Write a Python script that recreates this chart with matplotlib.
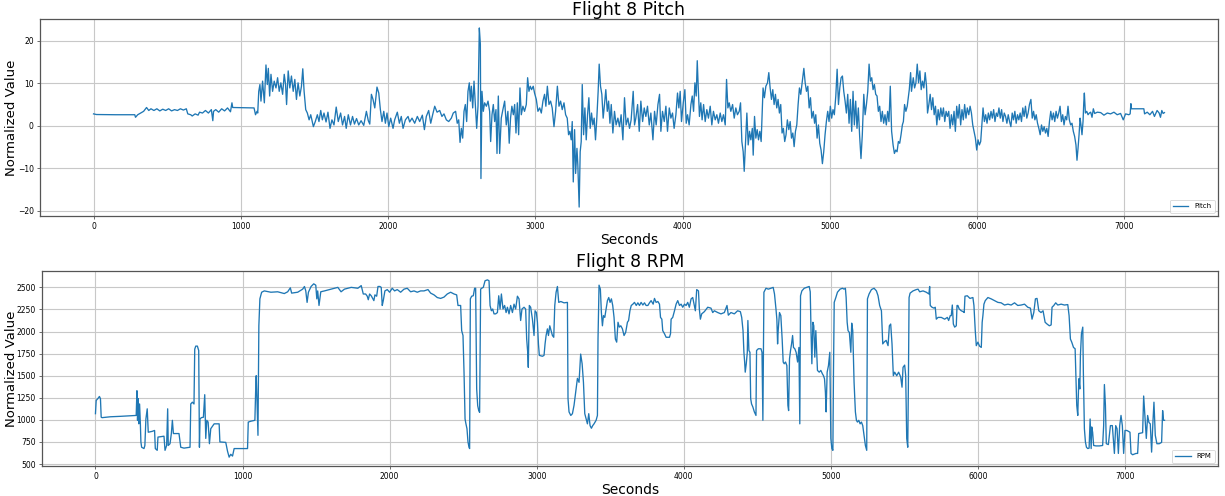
import matplotlib
matplotlib.use("Agg")
import matplotlib.pyplot as plt

# ---- data: (seconds, value) ----
pitch_points = [
    (0, 2.8), (20, 2.65), (150, 2.6), (280, 2.6), (285, 2.0), (300, 2.6), (320, 3.0), (340, 3.4),
    (360, 4.3), (375, 3.6), (390, 4.0), (410, 3.6), (430, 4.0), (450, 3.5), (470, 3.9), (490, 3.6),
    (510, 4.0), (530, 3.5), (550, 3.8), (570, 3.6), (590, 4.0), (610, 3.7), (630, 4.0), (640, 2.8),
    (660, 2.6), (670, 2.3), (690, 2.8), (710, 2.5), (720, 3.2), (740, 3.0), (760, 3.6), (780, 3.0),
    (800, 3.8), (810, 1.2), (815, 3.4), (830, 3.8), (850, 3.2), (870, 4.0), (890, 3.5), (910, 4.2),
    (930, 3.3), (940, 5.4), (945, 4.3), (1090, 4.2), (1100, 2.6), (1110, 3.4),
    (1115, 3.0), (1122, 8.1), (1130, 9.7), (1137, 5.8), (1148, 10.5), (1160, 5.4), (1171, 14.3),
    (1180, 9.7), (1187, 13.5), (1196, 7.0), (1205, 12.1), (1216, 8.1), (1227, 10.5), (1239, 8.9),
    (1250, 11.3), (1261, 8.1), (1272, 10.1), (1284, 7.4), (1295, 12.1), (1304, 9.7), (1311, 5.0),
    (1322, 12.9), (1333, 8.9), (1344, 11.7), (1356, 8.1), (1367, 10.9), (1378, 6.2), (1389, 10.1),
    (1401, 7.0), (1412, 9.3), (1421, 13.4), (1430, 8.1), (1441, 3.8),
    (1452, 3.0), (1464, 1.4), (1475, 2.6), (1493, -0.2), (1506, 1.0), (1520, 2.6), (1531, 1.0),
    (1543, 3.6), (1554, 1.4), (1565, 3.0), (1579, 0.9), (1592, 3.2), (1606, -0.6), (1619, 1.4),
    (1633, 0.2), (1648, 4.4), (1662, 1.0), (1678, 3.0), (1691, 0.2), (1705, 2.2), (1716, -0.6),
    (1730, 2.6), (1745, 0.2), (1759, 2.2), (1772, 0.4), (1786, 1.7), (1801, 0.2), (1817, 1.2),
    (1835, 0.1), (1853, 3.4), (1866, 1.2), (1876, 0.4),
    (1887, 7.4), (1898, 6.2), (1910, 4.2), (1925, 9.1), (1937, 7.7), (1948, 3.8), (1959, 1.0),
    (1971, 3.4), (1982, 0.6), (1993, 3.0), (2005, -0.2), (2018, 1.8), (2034, -0.6), (2045, 1.4),
    (2063, 3.2), (2077, 0.6), (2090, 2.2), (2102, -0.6), (2118, 1.4), (2136, 2.2), (2147, 0.9),
    (2163, 1.8), (2181, 0.6), (2199, 2.2), (2215, 1.0), (2233, 2.5), (2247, -0.9), (2260, 2.2),
    (2276, 3.6), (2290, 0.6), (2303, 2.6), (2317, 4.6), (2333, 3.2), (2351, 3.6), (2366, 2.2),
    (2380, 2.8), (2396, 1.4), (2412, 1.0), (2430, 1.8), (2443, 3.0), (2459, 3.4), (2470, 0.6),
    (2480, 1.4), (2489, -3.9), (2498, -0.6), (2507, -2.9), (2516, 3.4), (2525, 5.0), (2534, 1.0),
    (2543, 8.1), (2552, 10.1), (2559, 5.8), (2566, 9.3), (2575, 4.2), (2584, 10.5), (2593, 5.0),
    (2602, -0.6), (2611, 4.6), (2620, 23.0), (2627, 19.2), (2631, -12.4), (2638, 8.1), (2647, 3.4),
    (2656, 5.4), (2668, 4.6), (2679, 5.8), (2690, 3.4), (2697, -3.7), (2706, 2.6), (2715, 5.0),
    (2724, 1.0), (2733, 3.8), (2740, -6.5), (2749, 7.0), (2758, -6.5), (2769, 1.8), (2780, 3.8),
    (2792, 5.8), (2803, 0.2), (2814, 3.4), (2823, -4.1), (2832, 1.8), (2841, 4.6), (2851, 2.6),
    (2860, 5.0), (2869, -1.7), (2878, 5.4), (2887, -2.1), (2896, 8.9), (2905, 2.6), (2916, 4.6),
    (2927, 3.4), (2939, 5.0), (2948, 11.3), (2957, 8.1), (2966, 9.3), (2975, 8.5), (2986, 9.3),
    (2995, 7.7), (3007, 6.2), (3018, 3.4), (3030, 4.2), (3041, 3.0), (3052, 5.8), (3063, 7.4),
    (3072, 4.6), (3082, 9.3), (3093, 5.0), (3104, 5.8), (3115, 4.2), (3127, -0.2), (3138, 3.4),
    (3150, 9.3), (3161, 4.6), (3172, 5.8), (3183, 3.8), (3195, 5.4), (3206, 2.6), (3217, 1.8),
    (3226, -2.1), (3235, -1.3), (3244, -3.3), (3251, 1.0), (3258, -13.2), (3267, -0.9),
    (3274, -11.2), (3283, -5.3), (3289, -9.2), (3298, -19.1), (3305, -6.1), (3312, -3.7),
    (3319, 9.7), (3328, -2.1), (3337, 4.2), (3346, -3.3), (3355, 2.6), (3364, 6.6), (3373, -0.6),
    (3382, 3.0), (3391, 0.2), (3400, 1.8), (3409, -3.3), (3418, 1.8), (3427, 8.1), (3434, 14.5),
    (3443, 9.3), (3452, 7.4), (3461, 1.8), (3470, 5.0), (3479, 8.5), (3489, 3.4), (3498, 5.8),
    (3507, 0.6), (3516, 5.0), (3527, -1.7), (3538, 3.4), (3549, 0.2), (3561, 1.8), (3572, -0.2),
    (3583, 2.6), (3595, -3.3), (3606, 6.6), (3617, 0.2), (3629, 1.8), (3640, -0.6), (3651, 1.4),
    (3665, 8.1), (3674, 0.2),
    (3683, 1.8), (3695, 5.0), (3706, -1.3), (3717, 5.8), (3729, 1.0), (3740, 4.2), (3751, 2.2),
    (3762, 4.6), (3774, 0.2), (3785, 3.0), (3799, -3.3), (3810, 3.4), (3821, 0.2), (3833, 5.0),
    (3844, 7.4), (3853, -1.3), (3864, 3.4), (3876, 1.0), (3887, 4.6), (3898, -1.3), (3910, 4.2),
    (3921, 1.8), (3932, 3.0), (3943, -0.6), (3955, 2.6), (3966, 7.7), (3975, 4.2), (3984, 8.1),
    (3993, 1.0), (4005, 5.4), (4016, 8.5), (4025, 0.6), (4034, 2.6), (4045, 0.2), (4057, 5.0),
    (4066, 7.0), (4075, 3.4), (4084, 10.1), (4093, 7.0), (4100, 15.3), (4106, 9.7), (4115, 2.2),
    (4124, 5.4), (4133, 1.4), (4143, 5.0), (4154, 1.0), (4165, 3.8), (4176, 1.8), (4188, 4.6),
    (4199, 0.2), (4210, 3.4), (4222, 1.4), (4233, 2.6), (4244, 0.6), (4256, 3.0), (4267, 1.0),
    (4278, 2.6), (4290, 0.2), (4299, 10.9), (4308, 4.2), (4317, 5.4), (4328, 3.4), (4340, 5.0),
    (4351, 1.8), (4362, 4.2), (4373, 2.6), (4385, 3.4), (4394, 5.4), (4403, -3.7), (4412, -6.1),
    (4419, -10.7), (4428, -3.7), (4437, 3.0), (4446, -4.5), (4455, -1.3), (4464, -3.3),
    (4474, -0.6), (4480, -6.9), (4489, 2.2), (4498, -2.9), (4507, -0.9), (4516, -3.3),
    (4525, -1.3), (4534, -3.7), (4541, 3.4), (4547, 8.9), (4556, 6.6), (4566, 9.3), (4577, 10.1),
    (4586, 12.5), (4595, 8.9), (4604, 6.2), (4613, 8.5), (4622, 5.0), (4631, 7.4), (4640, 4.2),
    (4649, 6.2), (4658, 3.0), (4667, 5.0), (4676, -1.7), (4685, -0.6), (4694, -3.7), (4703, -2.1),
    (4712, 1.4), (4722, -0.9), (4731, 1.0), (4740, -2.9), (4749, -1.7), (4758, -4.9), (4767, -1.3),
    (4776, 0.2), (4785, 5.0), (4794, 8.9), (4803, 7.4), (4812, 10.1), (4824, 13.5), (4833, 10.1),
    (4842, 8.1), (4851, 9.3), (4860, 4.2), (4869, 6.6), (4878, 1.8), (4888, 3.4), (4897, 0.6),
    (4905, 2.6), (4914, -2.9), (4923, 0.2), (4932, -4.1), (4941, -5.7), (4950, -8.9), (4959, -6.1),
    (4968, -2.1), (4977, 1.0), (4986, 3.4), (4995, 1.0), (5004, 4.6), (5013, 1.8), (5022, 3.8),
    (5031, 2.6), (5041, 7.0), (5050, 13.3), (5059, 5.0), (5068, 8.9), (5077, 11.3), (5086, 11.7),
    (5095, 8.1), (5104, 5.8), (5113, 3.0), (5122, 7.4), (5131, 0.6), (5140, 6.2), (5149, -1.3),
    (5158, 8.1), (5167, 0.2), (5176, 5.8), (5185, -0.6), (5194, 4.2), (5203, -2.5), (5212, -7.7),
    (5221, -2.1), (5231, 7.4), (5240, 2.6), (5249, 5.0), (5258, 8.1), (5267, 14.5), (5276, 10.5),
    (5285, 11.3), (5294, 8.5), (5303, 9.7), (5312, 7.4), (5321, 7.0), (5330, 3.4), (5339, 4.6),
    (5348, 1.0), (5357, 3.4), (5366, 0.6), (5375, 2.6), (5384, 0.2), (5393, 3.4), (5402, 1.0),
    (5411, 9.3), (5420, -1.3), (5430, -4.5), (5439, -6.5), (5448, -5.7), (5457, -6.1),
    (5466, -3.7), (5475, -4.1), (5484, -2.1), (5493, 0.2), (5500, 1.0),
    (5508, 5.0), (5517, 3.4), (5526, 4.6), (5540, 8.5), (5549, 12.5), (5555, 8.1), (5567, 11.3),
    (5576, 8.9), (5585, 10.1), (5594, 14.5), (5603, 10.1), (5612, 12.9), (5621, 8.5), (5630, 10.5),
    (5639, 8.9), (5648, 12.5), (5657, 9.3), (5664, 3.0), (5673, 5.0), (5682, 7.4), (5691, 3.8),
    (5700, 6.6), (5709, 2.6), (5718, 4.6), (5727, 0.2), (5736, 3.8), (5745, 1.4), (5754, 4.2),
    (5763, 2.2), (5772, 4.2), (5781, 1.0), (5790, 3.4), (5799, 2.2), (5808, 3.4), (5817, -0.6),
    (5826, 2.6), (5835, 0.2), (5844, 3.4), (5853, -1.3), (5862, 4.6), (5871, 1.8), (5880, 5.0),
    (5889, 0.2), (5898, 3.8), (5907, 1.4), (5916, 5.0), (5925, 1.8), (5934, 4.2), (5944, 2.6),
    (5953, 4.6), (5962, 3.0), (5971, 0.2), (5980, -1.3), (5989, -2.9), (5998, -5.7), (6007, -3.3),
    (6016, -4.5), (6025, -3.7), (6034, 0.6), (6041, 4.2), (6050, 1.0), (6059, 2.6), (6068, 0.6),
    (6077, 3.0), (6086, 1.4), (6095, 3.4), (6104, 1.8), (6113, 3.8), (6122, 1.0), (6131, 3.0),
    (6140, 2.2), (6149, 4.2), (6158, 1.8), (6167, 3.8), (6176, 1.0), (6185, 3.0), (6194, 2.2),
    (6203, 0.6), (6212, 2.6), (6221, 1.0), (6230, -0.2), (6239, 3.0), (6248, 1.4), (6257, 3.4),
    (6266, 0.6), (6275, 2.6), (6284, 1.4), (6293, 3.0), (6302, 1.0), (6311, 4.2), (6320, 2.2),
    (6329, 4.6), (6338, 1.8), (6347, 3.0), (6356, 5.0), (6366, 6.2), (6375, 1.8), (6384, 3.4),
    (6393, 1.4), (6402, 2.6), (6411, 0.6), (6420, -0.6), (6429, -2.1), (6438, 0.2), (6447, -1.3),
    (6456, -0.2), (6465, -1.7), (6474, -0.6), (6483, -2.5), (6492, 1.0), (6501, 3.4), (6510, 1.4),
    (6519, 3.0), (6528, 1.0), (6537, 3.4), (6546, 1.8), (6555, 3.0), (6564, 4.6), (6573, 1.0),
    (6582, 2.6), (6591, 0.2), (6600, 2.2), (6609, 1.4), (6618, 4.6), (6627, 1.4), (6636, 0.2),
    (6645, 0.6), (6654, -1.3), (6663, -2.5), (6672, -4.5), (6679, -8.1), (6686, -5.3),
    (6693, -2.1), (6700, 1.8), (6706, 0.2), (6713, -2.1), (6720, 1.0), (6725, 5.4), (6729, 7.7),
    (6736, 3.0), (6745, 3.4), (6754, 2.6), (6763, 3.0), (6772, 3.2), (6781, 2.0), (6790, 4.0),
    (6799, 2.9), (6817, 3.2), (6840, 3.1), (6862, 2.5), (6885, 3.0), (6907, 2.8), (6930, 3.2),
    (6952, 2.6), (6975, 2.9), (6993, 1.4), (7009, 2.8), (7031, 2.6), (7040, 2.8), (7045, 5.2),
    (7049, 4.0), (7088, 4.0), (7133, 4.0), (7138, 2.8), (7156, 3.2), (7174, 2.6), (7192, 3.4),
    (7205, 2.2), (7223, 3.6), (7237, 3.0), (7246, 2.0), (7255, 3.6), (7264, 2.9), (7273, 3.1),
]

rpm_points = [
    (0, 1070), (5, 1220), (16, 1240), (27, 1265), (34, 1240), (39, 1030), (45, 1025), (102, 1035),
    (170, 1040), (277, 1050), (282, 1330), (286, 995), (291, 1240), (295, 955), (300, 1180),
    (305, 975), (309, 750), (314, 690), (330, 675), (336, 710), (343, 1010), (352, 1125),
    (359, 860), (386, 870), (402, 880), (407, 675), (420, 655), (425, 805), (466, 815), (473, 655),
    (484, 710), (491, 1125), (495, 710), (507, 730), (516, 845), (523, 995), (530, 845), (568, 845),
    (580, 690), (602, 680), (643, 690), (648, 1180), (659, 1200), (670, 1180), (675, 1800),
    (682, 1835), (693, 1835), (702, 1785), (707, 690), (711, 1010), (720, 1025), (734, 1030),
    (743, 1285), (750, 790), (757, 995), (766, 975), (775, 730), (784, 900), (807, 955), (841, 955),
    (846, 750), (886, 745), (898, 645), (909, 578), (920, 610), (932, 590), (943, 675), (977, 675),
    (1034, 675),
    (1039, 975), (1057, 985), (1084, 995), (1089, 1315), (1093, 1500), (1098, 1240), (1105, 825),
    (1111, 2065), (1118, 2370), (1130, 2445), (1148, 2460), (1193, 2445), (1239, 2450),
    (1284, 2430), (1307, 2450), (1325, 2495), (1334, 2435), (1375, 2445), (1409, 2480),
    (1421, 2510), (1430, 2460), (1439, 2330), (1448, 2445), (1466, 2510), (1484, 2540),
    (1498, 2525), (1505, 2370), (1511, 2460), (1520, 2295), (1532, 2450), (1557, 2460),
    (1602, 2480), (1648, 2500), (1670, 2450), (1693, 2480), (1739, 2500), (1784, 2490),
    (1807, 2520), (1821, 2425), (1837, 2425), (1848, 2400), (1855, 2360), (1864, 2425),
    (1875, 2405), (1887, 2370), (1893, 2350), (1900, 2415), (1912, 2400), (1921, 2510),
    (1934, 2510), (1943, 2500), (1950, 2295), (1957, 2350), (1968, 2460), (1984, 2475),
    (2000, 2445), (2018, 2490), (2034, 2460), (2052, 2475), (2075, 2445), (2098, 2480),
    (2120, 2490), (2143, 2450), (2166, 2460), (2188, 2445), (2211, 2460), (2234, 2460),
    (2261, 2475), (2279, 2435), (2302, 2415), (2324, 2385), (2347, 2375), (2370, 2390),
    (2392, 2425), (2415, 2445), (2438, 2425), (2456, 2415), (2465, 2295), (2483, 2295),
    (2490, 2010), (2499, 1955), (2506, 1540), (2513, 1010), (2519, 955), (2526, 900), (2533, 750),
    (2540, 690), (2544, 675), (2549, 2370), (2558, 2400), (2569, 2405), (2578, 2490), (2585, 2490),
    (2592, 1350), (2599, 1160), (2606, 1105), (2612, 1085), (2619, 2480), (2626, 2490),
    (2637, 2500), (2649, 2575), (2665, 2585), (2676, 2575), (2683, 2295), (2692, 2235),
    (2701, 2255), (2710, 2200), (2721, 2200), (2733, 2215), (2742, 2405), (2751, 2255),
    (2760, 2425), (2771, 2255), (2782, 2295), (2792, 2215), (2801, 2275), (2812, 2200),
    (2823, 2295), (2835, 2215), (2846, 2310), (2857, 2255), (2869, 2400), (2880, 2370),
    (2891, 2125), (2900, 2255), (2914, 2275), (2925, 2255), (2932, 1915), (2939, 1765),
    (2943, 1595), (2950, 2295), (2959, 2275), (2971, 2140), (2982, 1955), (2989, 2235),
    (2998, 2215), (3005, 2105), (3012, 1860), (3018, 1730), (3039, 1720), (3050, 1730),
    (3057, 1860), (3064, 1955), (3073, 2030), (3080, 1955), (3089, 2065), (3098, 2010),
    (3107, 1955), (3116, 1935), (3123, 2295), (3132, 2445), (3141, 2510), (3150, 2330),
    (3164, 2340), (3186, 2325), (3209, 2330), (3213, 1240), (3220, 1090), (3232, 1050),
    (3243, 1070), (3254, 1165), (3265, 1315), (3277, 1470), (3288, 1425), (3299, 1745),
    (3309, 1635), (3318, 1425), (3327, 1070), (3336, 1010), (3345, 955), (3354, 1070), (3363, 935),
    (3372, 905), (3381, 935), (3390, 955), (3404, 995), (3413, 1050), (3417, 1915), (3424, 2525),
    (3433, 2480), (3440, 2215), (3447, 2065), (3454, 2180), (3463, 2160), (3472, 2255),
    (3481, 2350), (3490, 2385), (3499, 2330), (3508, 2370), (3517, 2295), (3526, 2160),
    (3535, 1915), (3544, 1880), (3553, 2105), (3562, 2050), (3572, 2065), (3583, 2030),
    (3594, 1955), (3605, 1990), (3617, 2105), (3625, 2125), (3634, 2235), (3643, 2295),
    (3654, 2310), (3665, 2330), (3677, 2295), (3688, 2325), (3699, 2295), (3710, 2330),
    (3722, 2300), (3733, 2325), (3744, 2295), (3756, 2295), (3767, 2325), (3778, 2350),
    (3792, 2310), (3801, 2375), (3812, 2330), (3824, 2340), (3835, 2310), (3842, 2160),
    (3851, 2140), (3857, 2010), (3869, 1975), (3880, 1935), (3903, 1935), (3910, 1975),
    (3914, 2140), (3925, 2160), (3937, 2235), (3948, 2310), (3959, 2350), (3971, 2295),
    (3982, 2310), (3993, 2275), (4005, 2310), (4016, 2295), (4027, 2330), (4038, 2275),
    (4050, 2370), (4061, 2385), (4072, 2295), (4079, 2235), (4088, 2475), (4100, 2460),
    (4106, 2255), (4113, 2140), (4122, 2200), (4140, 2225), (4163, 2275), (4185, 2265),
    (4197, 2215), (4208, 2235), (4231, 2215), (4253, 2200), (4276, 2215), (4294, 2295),
    (4303, 2185), (4321, 2215), (4344, 2200), (4366, 2235), (4385, 2225), (4394, 2160),
    (4403, 2010), (4409, 1765), (4414, 1655), (4418, 1540), (4425, 1635), (4432, 1765),
    (4436, 2125), (4443, 1785), (4450, 1765), (4455, 1240), (4461, 1180), (4470, 1145),
    (4480, 1090), (4491, 1050), (4495, 1785), (4507, 1805), (4525, 1805), (4532, 1765), (4538, 995),
    (4545, 2445), (4559, 2490), (4575, 2480), (4593, 2490), (4608, 2500), (4617, 2425),
    (4627, 2255), (4633, 2140), (4638, 1860), (4642, 2010), (4651, 2215), (4660, 2180),
    (4669, 1915), (4676, 1655), (4683, 1635), (4692, 1655), (4701, 1615), (4708, 1165),
    (4713, 1105), (4719, 1690), (4726, 1785), (4733, 1860), (4740, 1955), (4746, 1820),
    (4755, 1805), (4764, 1765), (4774, 1655), (4783, 1820), (4789, 955), (4794, 2405), (4803, 2460),
    (4819, 2490), (4837, 2500), (4853, 2510), (4860, 2450), (4866, 1955), (4871, 1635),
    (4878, 2105), (4884, 2065), (4891, 1710), (4898, 2010), (4909, 1560), (4921, 1540),
    (4932, 1560), (4943, 1520), (4950, 1500), (4957, 1465), (4963, 1315), (4968, 1090),
    (4975, 1540), (4984, 1615), (4993, 1765), (5000, 790), (5007, 675), (5014, 655), (5018, 1540),
    (5023, 2330), (5034, 2385), (5045, 2445), (5063, 2480), (5079, 2490), (5090, 2480),
    (5099, 2490), (5104, 2385), (5111, 2105), (5117, 2010), (5126, 1990), (5136, 1765),
    (5142, 2095), (5149, 2010), (5158, 1425), (5167, 1090), (5174, 995), (5181, 975), (5190, 995),
    (5199, 955), (5208, 975), (5217, 935), (5226, 825), (5235, 710), (5244, 655), (5249, 2370),
    (5260, 2425), (5276, 2475), (5294, 2490), (5310, 2460), (5321, 2405), (5332, 2295),
    (5344, 2235), (5353, 1860), (5362, 1880), (5376, 1900), (5389, 1840), (5398, 2065),
    (5407, 2085), (5416, 1860), (5425, 1500), (5434, 1540), (5448, 1500), (5461, 1540),
    (5475, 1485), (5484, 1370), (5491, 1595), (5502, 1620), (5509, 1500), (5516, 790), (5523, 690),
    (5527, 1350), (5532, 2385), (5539, 2435), (5559, 2460), (5581, 2475), (5593, 2480),
    (5604, 2450), (5627, 2460), (5649, 2445), (5667, 2425), (5672, 2510), (5676, 2295),
    (5688, 2275), (5701, 2265), (5710, 2275), (5717, 2140), (5729, 2160), (5751, 2160),
    (5774, 2140), (5792, 2160), (5801, 2125), (5812, 2180), (5819, 2180), (5826, 2300),
    (5833, 2085), (5842, 2050), (5853, 2065), (5858, 2295), (5864, 2295), (5873, 2255),
    (5887, 2235), (5900, 2225), (5907, 2215), (5912, 2400), (5928, 2405), (5946, 2375),
    (5966, 2385), (5973, 2295), (5982, 2010), (5989, 1840), (6000, 1880), (6011, 1835),
    (6023, 1820), (6029, 2105), (6034, 2180), (6041, 2310), (6050, 2350), (6068, 2385),
    (6090, 2370), (6113, 2350), (6136, 2330), (6158, 2325), (6181, 2300), (6204, 2310),
    (6226, 2300), (6249, 2325), (6271, 2295), (6294, 2300), (6317, 2310), (6339, 2275),
    (6357, 2265), (6368, 2140), (6380, 2215), (6391, 2370), (6402, 2375), (6414, 2235),
    (6429, 2215), (6443, 2235), (6457, 2105), (6470, 2085), (6486, 2065), (6498, 2075),
    (6504, 2275), (6516, 2295), (6529, 2325), (6543, 2300), (6566, 2310), (6588, 2300),
    (6611, 2305), (6620, 2180), (6629, 1915), (6638, 1880), (6650, 1820), (6661, 1805),
    (6667, 1465), (6672, 1165), (6679, 1050), (6686, 1465), (6693, 1350), (6697, 1730),
    (6704, 1975), (6713, 2050), (6717, 1540), (6724, 900), (6731, 750), (6738, 690), (6747, 675),
    (6756, 680), (6763, 1010), (6770, 675), (6774, 920), (6780, 860), (6787, 710), (6803, 705),
    (6826, 705), (6848, 710), (6855, 935), (6860, 1400), (6867, 1165), (6873, 730), (6887, 720),
    (6901, 935), (6914, 935), (6928, 620), (6937, 935), (6946, 900), (6955, 620), (6964, 935),
    (6973, 1050), (6982, 935), (6991, 620), (7000, 880), (7013, 880), (7024, 870), (7034, 860),
    (7041, 620), (7052, 605), (7075, 620), (7086, 620), (7093, 845), (7120, 855), (7127, 1270),
    (7136, 1030), (7145, 790), (7154, 1050), (7163, 970), (7172, 955), (7181, 635), (7190, 975),
    (7197, 1200), (7206, 825), (7217, 730), (7233, 730), (7249, 745), (7256, 1105), (7262, 995),
    (7269, 995),
]

pitch_seconds = [p[0] for p in pitch_points]
pitch_values = [p[1] for p in pitch_points]
rpm_seconds = [p[0] for p in rpm_points]
rpm_values = [p[1] for p in rpm_points]

titles = ["Flight 8 Pitch", "Flight 8 RPM"]
legend_labels = ["Pitch", "RPM"]
x_label = "Seconds"
y_label = "Normalized Value"
x_ticks = [0, 1000, 2000, 3000, 4000, 5000, 6000, 7000]
pitch_ticks = [-20, -10, 0, 10, 20]
rpm_ticks = [500, 750, 1000, 1250, 1500, 1750, 2000, 2250, 2500]

# ---- figure ----
fig = plt.figure(figsize=(12.25, 4.96), dpi=100)
ax1 = fig.add_axes([40 / 1225, 1 - 216 / 496, 1178 / 1225, 197 / 496])
ax2 = fig.add_axes([42 / 1225, 1 - 466 / 496, 1176 / 1225, 195 / 496])

blue = "#1f77b4"
series = [(ax1, pitch_seconds, pitch_values, pitch_ticks, 40),
          (ax2, rpm_seconds, rpm_values, rpm_ticks, 42)]

for i, (ax, xs, ys, yt, left_px) in enumerate(series):
    ax.plot(xs, ys, color=blue, linewidth=0.95, label=legend_labels[i])
    ax.set_title(titles[i], fontsize=12.5, pad=1.5)
    ax.set_xlabel(x_label, fontsize=10, labelpad=1)
    ax.set_ylabel(y_label, fontsize=9.5)
    ax.yaxis.set_label_coords((18 - left_px) / (1178 if i == 0 else 1176), 0.5)
    ax.set_xticks(x_ticks)
    ax.set_yticks(yt)
    ax.tick_params(labelsize=5.5, length=2.5, width=0.6, color="#555555", pad=2)
    ax.grid(True, color="#c8c8c8", linewidth=0.8)
    ax.set_axisbelow(True)
    for s in ax.spines.values():
        s.set_color("#555555")
        s.set_linewidth(0.9)
    ax.margins(x=0.05, y=0.05)
    leg = ax.legend(loc="lower right", fontsize=5, frameon=True, handlelength=2.2,
                    borderpad=0.5, fancybox=True)
    leg.get_frame().set_edgecolor("#cccccc")
    leg.get_frame().set_linewidth(0.6)

fig.savefig("out.png", dpi=100)
